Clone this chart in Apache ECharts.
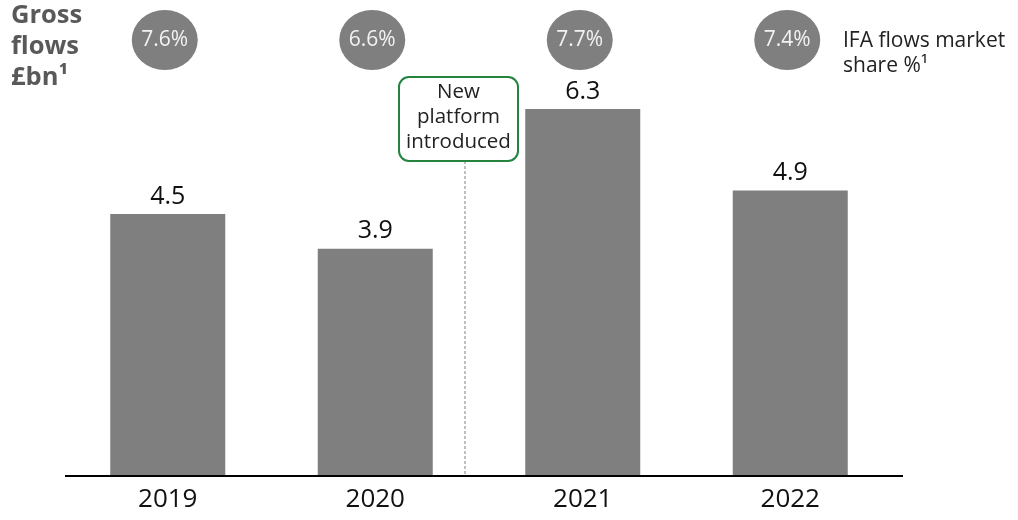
<!DOCTYPE html>
<html>
<head>
<meta charset="utf-8">
<script src="https://cdn.jsdelivr.net/npm/echarts@6/dist/echarts.min.js"></script>
<style>
  html, body { margin: 0; padding: 0; background: #fff; }
  #chart { width: 1018px; height: 520px; }
</style>
</head>
<body>
<div id="chart"></div>
<script>
// Gross flows by year (£bn) and IFA flows market share (%)
const years = ['2019', '2020', '2021', '2022'];
const grossFlows = [4.5, 3.9, 6.3, 4.9];
const marketShare = [7.6, 6.6, 7.7, 7.4];

const FONT = '"Open Sans", "Noto Sans", sans-serif';
const GREY = '#7f7f7f';

const chart = echarts.init(document.getElementById('chart'), null, { renderer: 'canvas' });

const option = {
  animation: false,
  textStyle: { fontFamily: FONT },
  title: {
    text: 'Gross\nflows\n£bn¹',
    left: 11,
    top: 0,
    padding: 0,
    textStyle: {
      fontFamily: FONT,
      fontSize: 25.5,
      fontWeight: 'bold',
      color: '#595959',
      lineHeight: 31
    }
  },
  grid: [
    { left: 64, width: 830, top: 10, height: 466 },
    { left: 64, width: 830, top: 0, height: 80 }
  ],
  xAxis: [
    {
      type: 'category',
      gridIndex: 0,
      data: years,
      axisLine: { show: false },
      axisTick: { show: false },
      axisLabel: {
        color: '#111',
        fontSize: 26,
        fontFamily: FONT,
        margin: 11
      }
    },
    {
      type: 'category',
      gridIndex: 1,
      data: years,
      show: false
    }
  ],
  yAxis: [
    { type: 'value', gridIndex: 0, min: 0, max: 8, show: false },
    { type: 'value', gridIndex: 1, min: 0, max: 1, show: false }
  ],
  series: [
    {
      type: 'bar',
      xAxisIndex: 0,
      yAxisIndex: 0,
      data: grossFlows,
      barWidth: 115,
      itemStyle: { color: GREY },
      label: {
        show: true,
        position: 'top',
        distance: 5,
        color: '#111',
        fontSize: 25,
        fontFamily: FONT
      }
    },
    {
      type: 'scatter',
      xAxisIndex: 1,
      yAxisIndex: 1,
      data: years.map((y, i) => [y, 0.5, marketShare[i]]),
      symbol: 'circle',
      symbolSize: [66, 60],
      symbolOffset: [-3, 0],
      itemStyle: { color: GREY, opacity: 1 },
      label: {
        show: true,
        position: 'inside',
        color: '#f2f2f2',
        fontSize: 21,
        fontFamily: FONT,
        formatter: p => p.value[2].toFixed(1) + '%'
      },
      silent: true
    }
  ],
  graphic: [
    // baseline
    {
      type: 'line',
      shape: { x1: 65, y1: 476, x2: 903, y2: 476 },
      style: { stroke: '#000', lineWidth: 2 },
      z: 10
    },
    // platform launch marker
    {
      type: 'line',
      shape: { x1: 465, y1: 161, x2: 465, y2: 475 },
      style: { stroke: '#808080', lineWidth: 1, lineDash: [3, 2] }
    },
    {
      type: 'rect',
      shape: { x: 399, y: 77, width: 119, height: 84, r: 10 },
      style: { fill: '#fff', stroke: '#24843f', lineWidth: 2 }
    },
    {
      type: 'text',
      x: 458.5,
      y: 80,
      style: {
        text: 'New\nplatform\nintroduced',
        fontFamily: FONT,
        fontSize: 20.5,
        lineHeight: 25,
        fill: '#222',
        align: 'center',
        verticalAlign: 'top'
      }
    },
    // share legend
    {
      type: 'text',
      x: 843,
      y: 29,
      style: {
        text: 'IFA flows market\nshare %¹',
        fontFamily: FONT,
        fontSize: 21,
        lineHeight: 25,
        fill: '#222',
        align: 'left',
        verticalAlign: 'top'
      }
    }
  ]
};

chart.setOption(option);
</script>
</body>
</html>
